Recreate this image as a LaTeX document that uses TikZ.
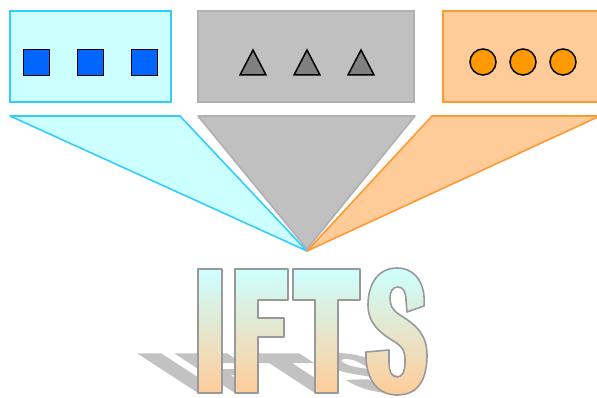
\documentclass[tikz,border=0pt]{standalone}
\definecolor{cyanF}{HTML}{CCFFFF}
\definecolor{cyanD}{HTML}{33CCFF}
\definecolor{grayF}{HTML}{C0C0C0}
\definecolor{grayD}{HTML}{B0B0B0}
\definecolor{orF}{HTML}{FFCC99}
\definecolor{orD}{HTML}{FF9933}
\definecolor{blueS}{HTML}{0066FF}
\definecolor{triF}{HTML}{808080}
\definecolor{circF}{HTML}{FF9900}
\definecolor{outl}{HTML}{999999}
\definecolor{shad}{HTML}{C2C2C2}
\tikzset{
  boxC/.style={fill=cyanF, draw=cyanD, line width=1.6pt},
  boxG/.style={fill=grayF, draw=grayD, line width=1.6pt},
  boxO/.style={fill=orF, draw=orD, line width=1.6pt},
  glyph/.style={draw=black, line width=1.5pt},
  letter/.style={top color=cyanF, bottom color=orF, draw=outl, line width=1.6pt, line join=round},
  shadowfill/.style={fill=shad},
  pI/.style={insert path={(198,0) rectangle (222,124)}},
  pF/.style={insert path={(235,0) -- (235,124) -- (288,124) -- (288,93) -- (258,93) -- (258,75) -- (284,75) -- (284,56) -- (258,56) -- (258,0) -- cycle}},
  pT/.style={insert path={(293,124) -- (360,124) -- (360,93) -- (338,93) -- (338,0) -- (315,0) -- (315,93) -- (293,93) -- cycle}},
  pS/.style={insert path={(424,87)
     .. controls (426,111) and (414,125) .. (397,125)
     .. controls (378,125) and (368,109) .. (368,88)
     .. controls (368,71) and (378,61) .. (395,51)
     .. controls (404,45) and (405,41) .. (405,31)
     .. controls (405,21) and (402,16) .. (397,16)
     .. controls (392,16) and (389,21) .. (389,31)
     -- (389,43) -- (366,41)
     .. controls (365,13) and (378,-2) .. (397,-2)
     .. controls (418,-2) and (427,13) .. (427,38)
     .. controls (427,57) and (418,67) .. (400,78)
     .. controls (392,83) and (390,88) .. (390,95)
     .. controls (390,102) and (393,106) .. (398,106)
     .. controls (403,106) and (406,101) .. (406,93)
     -- (407,81) -- cycle}}
}
\begin{document}
\begin{tikzpicture}[x=1pt,y=1pt]
\useasboundingbox (0,0) rectangle (597,397);
% top boxes
\draw[boxC] (10,295) rectangle (171,386);
\draw[boxG] (198,295) rectangle (414,386);
\draw[boxO] (443,295) rectangle (600,386);
% funnels
\draw[boxC, line join=round] (10,281) -- (180,281) -- (307,146) -- cycle;
\draw[boxG, line join=round] (198,281) -- (415,281) -- (307,148) -- cycle;
\draw[boxO, line join=round] (432,281) -- (600,281) -- (307,146) -- cycle;
% squares
\foreach \cx in {36.5,90.5,144.5}
  \draw[glyph, fill=blueS] (\cx-13,321.5) rectangle (\cx+13,347.5);
% triangles
\foreach \cx in {253,307,361}
  \draw[glyph, fill=triF, line join=miter] (\cx-13,322) -- (\cx+13,322) -- (\cx,347) -- cycle;
% circles
\foreach \cx in {483,523,563}
  \draw[glyph, fill=circF] (\cx,335) circle (13);
% shadows
\begin{scope}[shift={(0,4)}, cm={1,0,-0.49,0.32,(0,0)}]
  \fill[shadowfill, pI];
  \fill[shadowfill, pF];
  \fill[shadowfill, pT];
  \fill[shadowfill, pS];
\end{scope}
% letters
\begin{scope}[shift={(0,4)}]
  \shadedraw[letter, pI];
  \shadedraw[letter, pF];
  \shadedraw[letter, pT];
  \shadedraw[letter, pS];
\end{scope}
\end{tikzpicture}
\end{document}
